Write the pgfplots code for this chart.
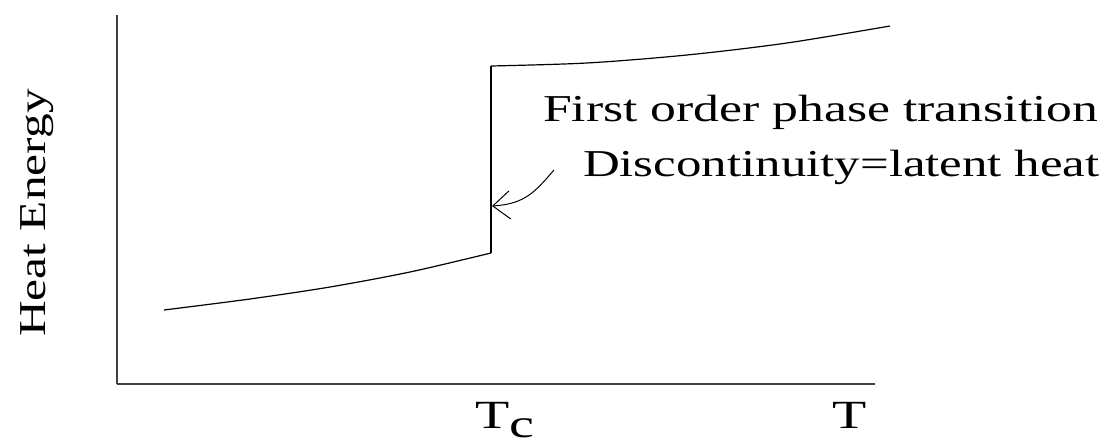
\documentclass[border=0pt]{standalone}
\usepackage{fontspec}
\setmainfont{Liberation Serif}
\usepackage{graphicx}
\usepackage{pgfplots}
\pgfplotsset{compat=1.18}
\usetikzlibrary{arrows.meta}
\begin{document}
\begin{tikzpicture}
\useasboundingbox (0,0) rectangle (559.5pt,222.5pt);
\begin{axis}[
  at={(58.5pt,30.5pt)}, anchor=south west,
  scale only axis, width=379pt, height=184.5pt,
  xmin=0, xmax=758, ymin=0, ymax=369,
  axis x line=bottom, axis y line=left,
  axis line style={-, line width=1pt, color=black!75},
  xtick=\empty, ytick=\empty,
  clip=false,
]
\addplot[black, line width=0.6pt, smooth] coordinates {
  (47,74) (133,85) (213,97) (293,112) (374,131)
};
\addplot[black, line width=0.6pt] coordinates {
  (374,131) (374,318)
};
\addplot[black, line width=0.6pt, smooth] coordinates {
  (374,318) (470,321) (570,329) (670,341) (773,358)
};
\draw[black, line width=0.5pt, -{Straight Barb[length=8.5pt,width=14pt]}]
  (axis cs:437,214) .. controls (axis cs:418,192) and (axis cs:408,180) .. (axis cs:375,178);
\node[anchor=base east, inner sep=0pt] at (axis cs:982,262)
  {\scalebox{1.36}[1]{\fontsize{19}{23}\selectfont First order phase transition}};
\node[anchor=base east, inner sep=0pt] at (axis cs:983,207)
  {\scalebox{1.34}[1]{\fontsize{19}{23}\selectfont Discontinuity=latent heat}};
\node[anchor=base, rotate=90, inner sep=0pt] at (axis cs:-71,171)
  {\scalebox{1.3}[1]{\fontsize{19}{23}\selectfont Heat Energy}};
\node[anchor=base west, inner sep=0pt] at (axis cs:358,-44)
  {\scalebox{1.4}[1]{\fontsize{20}{24}\selectfont T\raisebox{-4.5pt}{c}}};
\node[anchor=base west, inner sep=0pt] at (axis cs:715,-44)
  {\scalebox{1.4}[1]{\fontsize{20}{24}\selectfont T}};
\end{axis}
\end{tikzpicture}
\end{document}
